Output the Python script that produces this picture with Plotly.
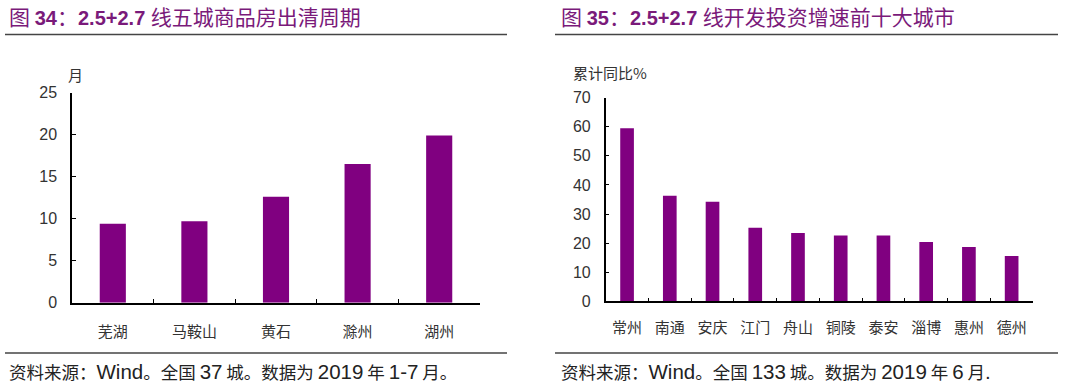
import plotly.graph_objects as go

W, H = 1080, 389

# Data
left_cities = ["芜湖", "马鞍山", "黄石", "滁州", "湖州"]
left_values = [9.4, 9.7, 12.6, 16.5, 19.9]
right_cities = ["常州", "南通", "安庆", "江门", "舟山", "铜陵", "泰安", "淄博", "惠州", "德州"]
right_values = [59.5, 36.3, 34.2, 25.3, 23.5, 22.6, 22.6, 20.4, 18.7, 15.6]
left_ticks = [0, 5, 10, 15, 20, 25]
right_ticks = [0, 10, 20, 30, 40, 50, 60, 70]

PURPLE = "#800080"
TITLE_C = "#7a1a7a"
FONT = "Liberation Sans, Arial, Noto Sans CJK SC"
CJK = "Noto Sans CJK SC"

def px(x):
    return x / W

def py(y):
    return 1 - y / H

def cj(s, size):
    return f'<span style="font-family:{CJK};font-size:{size}px">{s}</span>'

fig = go.Figure()
fig.add_trace(go.Bar(x=left_cities, y=left_values, marker_color=PURPLE,
                     xaxis="x", yaxis="y", showlegend=False))
fig.add_trace(go.Bar(x=right_cities, y=right_values, marker_color=PURPLE,
                     xaxis="x2", yaxis="y2", showlegend=False))

axis_common = dict(showline=True, linecolor="black", linewidth=1.5, showgrid=False,
                   zeroline=False, ticks="inside", ticklen=4, tickcolor="black",
                   automargin=False)

fig.update_layout(
    template="none",
    width=W, height=H, margin=dict(l=0, r=0, t=0, b=0, autoexpand=False),
    paper_bgcolor="white", plot_bgcolor="white",
    bargap=0.68,
    font=dict(family=FONT, color="#333333"),
    xaxis=dict(domain=[px(72), px(480)], anchor="y", **axis_common, tickson="boundaries",
               tickfont=dict(size=15, color="#333333", family=CJK), ticklabelstandoff=15),
    yaxis=dict(domain=[py(302.7), py(92.7)], anchor="x", range=[0, 25],
               tickvals=left_ticks, **axis_common,
               tickfont=dict(size=16, color="#333333"), ticklabelstandoff=10),
    xaxis2=dict(domain=[px(605.7), px(1033)], anchor="y2", **axis_common, tickson="boundaries",
                tickfont=dict(size=15, color="#333333", family=CJK), ticklabelstandoff=12),
    yaxis2=dict(domain=[py(301.3), py(97.7)], anchor="x2", range=[0, 70],
                tickvals=right_ticks, **axis_common,
                tickfont=dict(size=16, color="#333333"), ticklabelstandoff=10),
)

TS = 21
t1 = cj("图 ", TS) + "<b>34</b>" + cj("：", TS) + "<b>2.5+2.7</b> " + cj("线五城商品房出清周期", TS)
t2 = cj("图 ", TS) + "<b>35</b>" + cj("：", TS) + "<b>2.5+2.7</b> " + cj("线开发投资增速前十大城市", TS)
FS = 17.5
f1 = cj("资料来源：", FS) + "Wind" + cj("。全国 ", FS) + "37" + cj(" 城。数据为 ", FS) + "2019" + cj(" 年 ", FS) + "1-7" + cj(" 月。", FS)
f2 = cj("资料来源：", FS) + "Wind" + cj("。全国 ", FS) + "133" + cj(" 城。数据为 ", FS) + "2019" + cj(" 年 ", FS) + "6" + cj(" 月", FS) + "."

annotations = [
    dict(text=t1, x=px(7), y=py(16), font=dict(size=20, color=TITLE_C)),
    dict(text=t2, x=px(559), y=py(16), font=dict(size=20, color=TITLE_C)),
    dict(text=f1, x=px(7), y=py(371), font=dict(size=20.5, color="#222222")),
    dict(text=f2, x=px(559), y=py(371), font=dict(size=20.5, color="#222222")),
    dict(text="月", x=px(66), y=py(74), font=dict(size=15, color="#333333", family=CJK)),
    dict(text="累计同比%", x=px(571), y=py(73), font=dict(size=15, color="#333333", family=CJK)),
]
for a in annotations:
    fig.add_annotation(xref="paper", yref="paper", xanchor="left", yanchor="middle",
                       showarrow=False, **a)

for x0, x1 in [(5, 507), (555, 1058)]:
    for yy in (34.5, 353):
        fig.add_shape(type="line", xref="paper", yref="paper",
                      x0=px(x0), x1=px(x1), y0=py(yy), y1=py(yy),
                      line=dict(color="#444444", width=1.5))

fig.write_html("out.html", config={"displayModeBar": False},
               post_script="document.body.style.margin='0';document.body.style.overflow='hidden';")
